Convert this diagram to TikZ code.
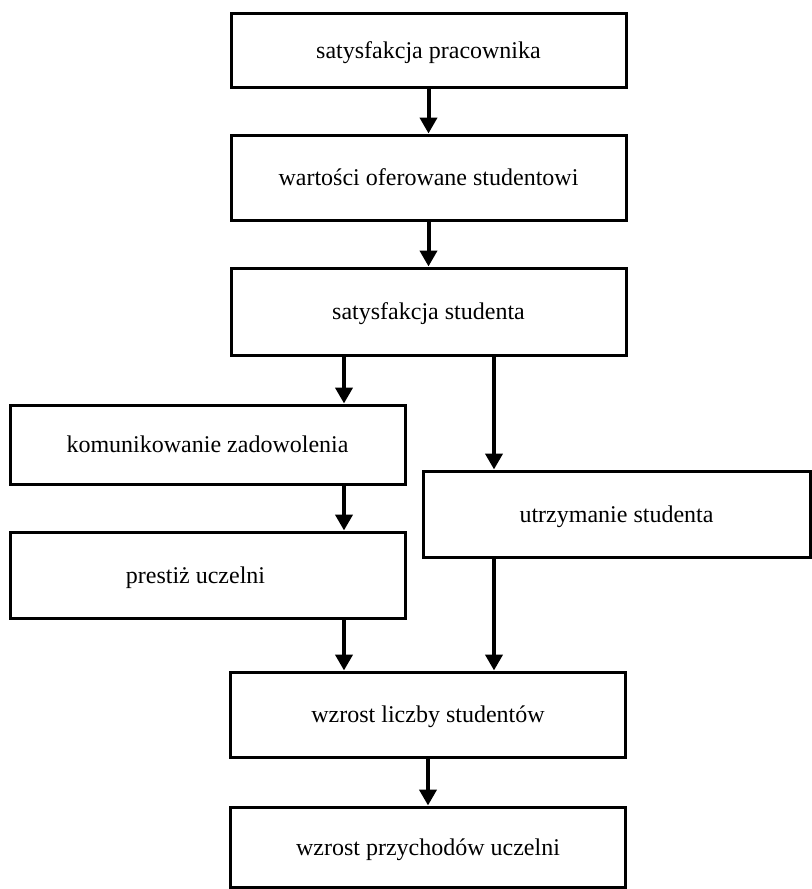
\documentclass[tikz,border=0pt]{standalone}
\usepackage{fontspec}
\setmainfont{Liberation Serif}
\usetikzlibrary{arrows.meta}

\tikzset{
    box/.style={draw, line width=1.5pt, rectangle, minimum width=197.5pt,
        inner sep=0pt, text depth=0pt, font=\fontsize{12}{14}\selectfont},
    arr/.style={line width=2pt, -{Triangle[width=8.5pt,length=8pt]}}
}

\begin{document}
\begin{tikzpicture}[x=0.5pt,y=-0.5pt]
        \useasboundingbox (0,0) rectangle (812,889);
        % boxes
        \node[box, minimum height=37pt] (pracownik) at (428.5,50) {satysfakcja pracownika};
        \node[box, minimum height=42.5pt] (wartosci) at (428.5,177.5) {wartości oferowane studentowi};
        \node[box, minimum height=43.5pt] (student) at (428.5,311.5) {satysfakcja studenta};
        \node[box, minimum height=39.5pt] (komunikowanie) at (207.5,444.5) {komunikowanie zadowolenia};
        \node[box, minimum height=43pt, minimum width=193.5pt] (utrzymanie) at (616.5,514) {utrzymanie studenta};
        \node[box, minimum height=43pt] (prestiz) at (207.5,575) {\hspace*{-12pt}prestiż uczelni};
        \node[box, minimum height=42.5pt] (liczba) at (428,714.5) {wzrost liczby studentów};
        \node[box, minimum height=40.25pt] (przychody) at (428,847.25) {wzrost przychodów uczelni};
        % columns of the side arrows
        \coordinate (lewa) at (344,0);
        \coordinate (prawa) at (494,0);
        % arrows
        \draw[arr] (pracownik) -- (wartosci);
        \draw[arr] (wartosci) -- (student);
        \draw[arr] (student.south -| lewa) -- (komunikowanie.north -| lewa);
        \draw[arr] (student.south -| prawa) -- (utrzymanie.north -| prawa);
        \draw[arr] (komunikowanie.south -| lewa) -- (prestiz.north -| lewa);
        \draw[arr] (prestiz.south -| lewa) -- (liczba.north -| lewa);
        \draw[arr] (utrzymanie.south -| prawa) -- (liczba.north -| prawa);
        \draw[arr] (liczba) -- (przychody);
    \end{tikzpicture}
\end{document}
